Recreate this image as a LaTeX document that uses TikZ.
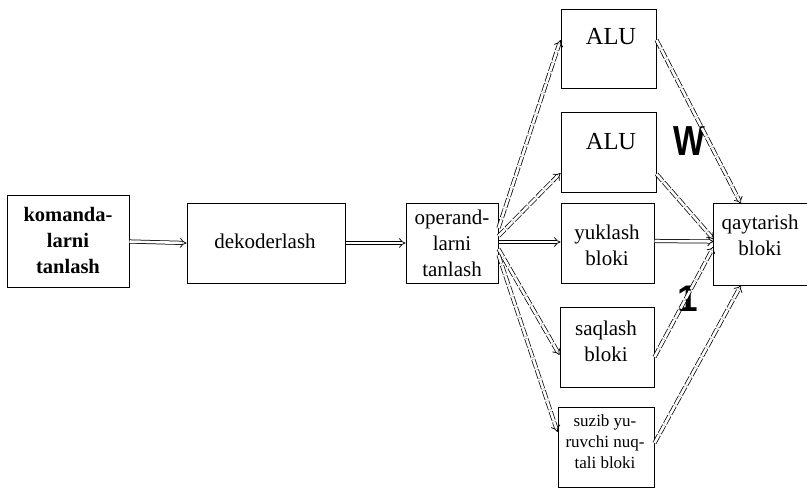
\documentclass[tikz,border=0pt]{standalone}
\usepackage{fontspec}
\setmainfont{Liberation Serif}
\newfontfamily\bigsans{Liberation Sans}
\usetikzlibrary{arrows.meta,calc}
\begin{document}
\begin{tikzpicture}[x=1pt,y=-1pt,
  blk/.style={draw, line width=1pt, rectangle, inner sep=0pt},
  txt/.style={align=center, font=\fontsize{21}{26}\selectfont, inner sep=0pt},
  alutxt/.style={align=center, font=\fontsize{24.5}{26}\selectfont, inner sep=0pt},
  smalltxt/.style={align=center, font=\fontsize{17}{21}\selectfont, inner sep=0pt},
  conn/.style={double, double distance=2.6pt, line width=0.75pt, -{Implies}},
  dconn/.style={conn, dash pattern=on 9pt off 2pt},
  mark1/.style={font=\bigsans\bfseries\fontsize{42}{42}\selectfont, inner sep=0pt},
]
\useasboundingbox (0,0) rectangle (807,488);
% boxes
\node[blk, minimum width=122pt, minimum height=92pt] (kom) at (68,241.5) {};
\node[txt, font=\bfseries\fontsize{20.5}{26}\selectfont] (komt) at (68,240) {komanda-\\larni\\tanlash};
\node[blk, minimum width=158pt, minimum height=80pt] (dek) at (266,243) {};
\node[txt] (dekt) at (265,241) {dekoderlash};
\node[blk, minimum width=92pt, minimum height=80pt] (op) at (452,243) {};
\node[txt] (opt) at (452,243) {operand-\\larni\\tanlash};
\node[blk, minimum width=95pt, minimum height=79pt] (alua) at (608.5,48.5) {};
\node[alutxt] (aluat) at (611,37) {ALU};
\node[blk, minimum width=95pt, minimum height=80pt] (alub) at (608.5,152) {};
\node[alutxt] (alubt) at (611,142) {ALU};
\node[blk, minimum width=93pt, minimum height=80pt] (yuk) at (607.5,243) {};
\node[txt] (yukt) at (607,245) {yuklash\\bloki};
\node[blk, minimum width=94pt, minimum height=80pt] (saq) at (607,347) {};
\node[txt] (saqt) at (606,341) {saqlash\\bloki};
\node[blk, minimum width=96pt, minimum height=80pt] (suz) at (606,447) {};
\node[smalltxt] (suzt) at (605,442) {suzib yu-\\ruvchi nuq-\\tali bloki};
\node[minimum width=94pt, minimum height=81pt, inner sep=0pt] (qay) at (761,244.5) {};
\draw[line width=1pt] (qay.north east) -- (qay.north west) -- (qay.south west) -- (qay.south east);
\node[txt] (qayt) at (760,235) {qaytarish\\bloki};
% big marks
\node[mark1, xscale=0.8] (w) at (689,141) {W};
\node[mark1, font=\bigsans\bfseries\fontsize{37}{37}\selectfont] (one) at (688,299) {1};
% connectors
\draw[conn] (kom.east) -- (dek.west);
\draw[conn] (dek.east) -- (op.west);
\draw[dconn] ($(op.east)+(0,-15)$) -- ($(alua.west)+(0,-8.5)$);
\draw[dconn] ($(op.east)+(0,-7)$) -- ($(alub.west)+(0,21)$);
\draw[conn] ($(op.east)+(0,-1)$) -- ($(yuk.west)+(0,-1)$);
\draw[dconn] ($(op.east)+(0,6)$) -- ($(saq.west)+(0,8)$);
\draw[dconn] ($(op.east)+(0,12)$) -- ($(suz.west)+(0,-15)$);
\draw[dconn] ($(alua.east)+(0,-8.5)$) -- ($(qay.north)+(-20,0)$);
\draw[dconn] ($(alub.east)+(0,22)$) -- ($(qay.west)+(0,-5)$);
\draw[conn] ($(yuk.east)+(0,-2)$) -- ($(qay.west)+(0,-3)$);
\draw[dconn] ($(saq.east)+(0,10)$) -- ($(qay.west)+(0,2)$);
\draw[dconn] ($(suz.east)+(0,-4)$) -- ($(qay.south)+(-20,0)$);
\end{tikzpicture}
\end{document}
